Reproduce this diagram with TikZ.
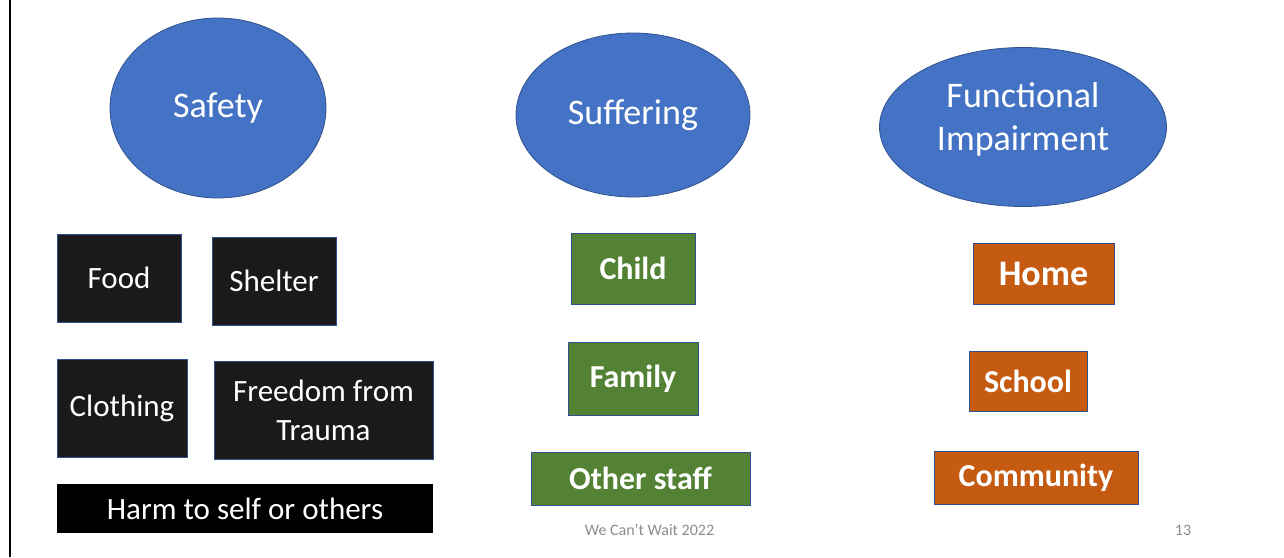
\documentclass[tikz,border=0pt]{standalone}
\usepackage{fontspec}
\setmainfont{Carlito}
\usepackage{tikz}
\usetikzlibrary{shapes.geometric}
\definecolor{ovalblue}{HTML}{4472C4}
\definecolor{edgeblue}{HTML}{2F528F}
\definecolor{nearblack}{HTML}{1A1A1A}
\definecolor{leafgreen}{HTML}{548235}
\definecolor{rust}{HTML}{C55A11}
\definecolor{footgray}{HTML}{8C8C8C}

\begin{document}
\begin{tikzpicture}[
  x=0.5pt,y=-0.5pt,
  oval/.style={ellipse,draw=edgeblue,fill=ovalblue,text=white,inner sep=0pt,
               align=center,font=\fontsize{18}{21.5}\selectfont},
  need/.style={draw=edgeblue,fill=nearblack,text=white,inner sep=0pt,
               align=center,font=\fontsize{15.5}{19.5}\selectfont},
  who/.style={draw=edgeblue,fill=leafgreen,text=white,inner sep=0pt,
              font=\fontsize{16}{19}\selectfont\bfseries},
  where/.style={draw=edgeblue,fill=rust,text=white,inner sep=0pt,
                font=\fontsize{16}{19}\selectfont\bfseries},
  foot/.style={text=footgray,inner sep=0pt,font=\fontsize{8}{10}\selectfont}
]
\useasboundingbox (0,0) rectangle (1284,557);
\draw[line width=1pt] (10,0) -- (10,557);

% three domains
\node[oval,minimum width=108pt,minimum height=90pt] (safety) at (218,108) {Safety};
\node[oval,minimum width=117pt,minimum height=82pt] (suffer) at (633,115) {\raisebox{-2pt}{Suffering}};
\node[oval,minimum width=143.5pt,minimum height=79.5pt,
      label={[text=white,align=center,font=\fontsize{18}{21.5}\selectfont,yshift=4pt]center:Functional\\Impairment}] (funcimp) at (1023,127) {};

% safety needs
\node[need,minimum width=62pt,minimum height=44pt] (food) at (119,278) {Food};
\node[need,minimum width=62pt,minimum height=44pt] (shelter) at (274,281) {Shelter};
\node[need,minimum width=65pt,minimum height=49pt] (cloth) at (122,408) {Clothing};
\node[need,minimum width=109.5pt,minimum height=49pt] (trauma) at (323.5,410.5) {Freedom from\\Trauma};
\node[need,draw=none,fill=black,minimum width=188pt,minimum height=24.5pt] (harm) at (245,508.5) {Harm to self or others};

% who is suffering
\node[who,minimum width=62pt,minimum height=35.5pt] (child) at (633,268.5) {Child};
\node[who,minimum width=65pt,minimum height=36.5pt] (family) at (633,378.5) {Family};
\node[who,minimum width=109.5pt,minimum height=26.5pt] (staff) at (640.5,478.5) {Other staff};

% where impaired
\node[where,minimum width=70.5pt,minimum height=30.5pt,font=\fontsize{18}{21}\selectfont\bfseries] (home) at (1043.5,273.5) {Home};
\node[where,minimum width=59pt,minimum height=30pt] (school) at (1028,381) {School};
\node[where,minimum width=102pt,minimum height=26.5pt] (comm) at (1036,477.5) {Community};

% footer
\node[foot] (footer) at (649.5,530) {We Can't Wait 2022};
\node[foot] (pagenum) at (1183,530) {13};
\end{tikzpicture}
\end{document}
